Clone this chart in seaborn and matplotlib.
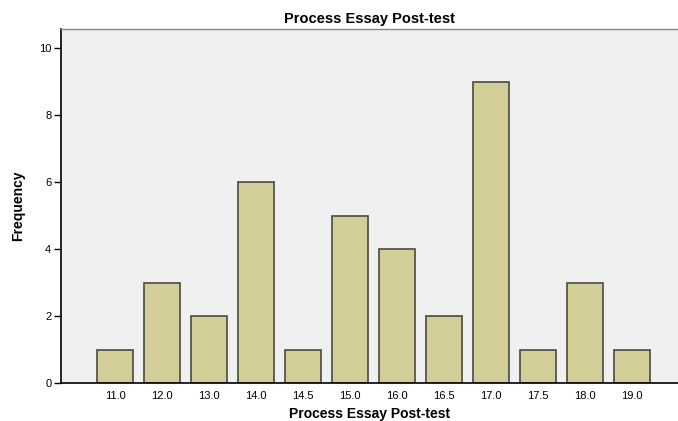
import matplotlib
matplotlib.use('Agg')

import matplotlib.pyplot as plt
import seaborn as sns
import pandas as pd

scores = ["11.0", "12.0", "13.0", "14.0", "14.5", "15.0", "16.0", "16.5", "17.0", "17.5", "18.0", "19.0"]
counts = [1, 3, 2, 6, 1, 5, 4, 2, 9, 1, 3, 1]

df = pd.DataFrame({"score": scores, "count": counts})

sns.set_style("white")
plt.rcParams['font.family'] = ['Liberation Sans', 'DejaVu Sans']
plt.rcParams['text.color'] = 'black'
plt.rcParams['axes.labelcolor'] = 'black'
plt.rcParams['xtick.color'] = 'black'
plt.rcParams['ytick.color'] = 'black'

fig = plt.figure(figsize=(6.78, 4.21), dpi=100)
ax = fig.add_axes([61 / 678, 38 / 421, 617 / 678, 354 / 421])
ax.set_facecolor("#f0f0f0")

sns.barplot(data=df, x="score", y="count", order=scores, color="#d3ce97",
            saturation=1, width=0.77, edgecolor="#4a4a40", linewidth=1.2, ax=ax)

ax.set_xlim(-1.15, 11.98)
ax.set_ylim(0, 10.57)
ax.set_yticks([0, 2, 4, 6, 8, 10])

for s in ["left", "bottom"]:
    ax.spines[s].set_color("black")
    ax.spines[s].set_linewidth(1.2)
ax.spines["top"].set_color("#888888")
ax.spines["top"].set_linewidth(1.0)
ax.spines["right"].set_visible(False)

ax.tick_params(axis="y", length=5, width=1, color="black", labelsize=8, pad=2, left=True)
ax.tick_params(axis="x", length=0, labelsize=8, pad=6)

ax.set_xlabel("Process Essay Post-test", fontsize=10, fontweight="bold", labelpad=4)
ax.set_ylabel("Frequency", fontsize=10, fontweight="bold", labelpad=10)
ax.set_title("Process Essay Post-test", fontsize=10.5, fontweight="bold", pad=4)

fig.savefig("out.png", dpi=100)
plt.close(fig)
